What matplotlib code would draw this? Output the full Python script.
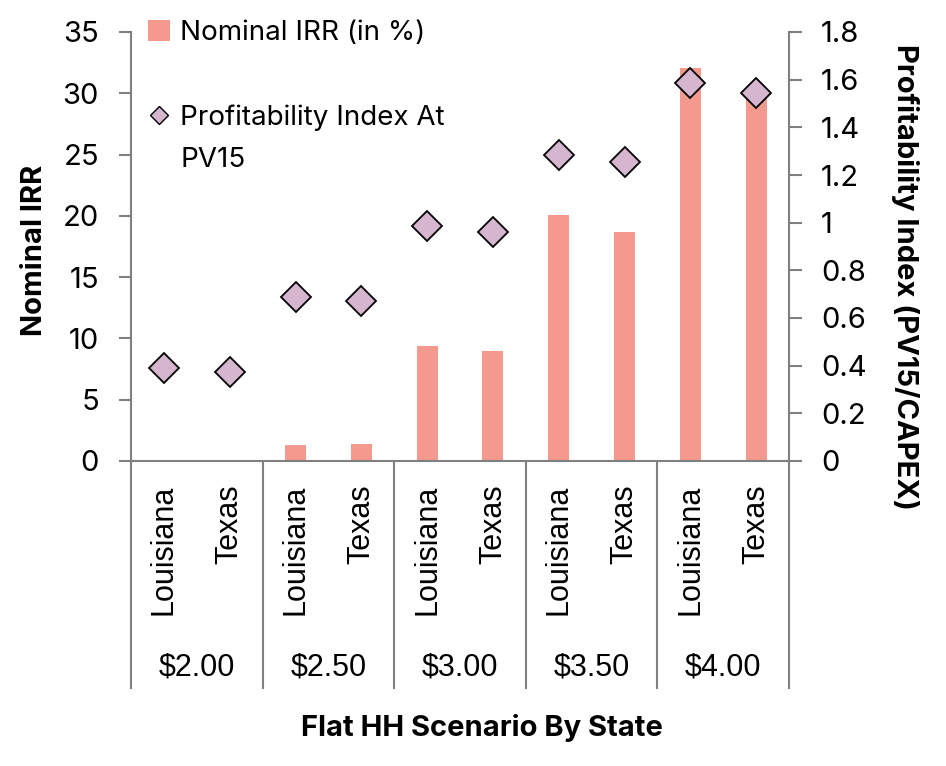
import matplotlib
matplotlib.use("Agg")
import matplotlib.pyplot as plt
from matplotlib.lines import Line2D
from matplotlib.patches import Patch
import numpy as np

plt.rcParams['font.family'] = ['Inter', 'DejaVu Sans']

prices = ['$2.00', '$2.50', '$3.00', '$3.50', '$4.00']
states = ['Louisiana', 'Texas']
irr = [0.0, 0.0, 1.3, 1.4, 9.4, 9.0, 20.1, 18.7, 32.1, 30.0]
pi_pv15 = [0.39, 0.375, 0.69, 0.67, 0.985, 0.96, 1.285, 1.255, 1.585, 1.545]

bar_color = '#F4998D'
dia_color = '#D6B5CF'
axis_gray = '#808080'

fig = plt.figure(figsize=(9.46, 7.66), dpi=100)
ax = fig.add_axes([131 / 946, 1 - 461 / 766, (789 - 131) / 946, (461 - 32) / 766])
ax2 = ax.twinx()

x = np.arange(len(irr))
ax.bar(x, irr, width=0.32, color=bar_color, zorder=2)
ax2.plot(x, pi_pv15, linestyle='none', marker='D', markersize=15,
         markerfacecolor=dia_color, markeredgecolor='black', markeredgewidth=1.3, zorder=3)

ax.set_xlim(-0.5, len(irr) - 0.5)
ax.set_ylim(0, 35)
ax.set_yticks(range(0, 36, 5))
ax2.set_ylim(0, 1.8)
ax2.set_yticks(np.arange(0, 1.81, 0.2))
ax2.set_yticklabels(['0', '0.2', '0.4', '0.6', '0.8', '1', '1.2', '1.4', '1.6', '1.8'])

for a in (ax, ax2):
    a.spines['top'].set_visible(False)
    for s in a.spines.values():
        s.set_color(axis_gray)
        s.set_linewidth(1.5)
    a.tick_params(axis='y', colors=axis_gray, labelcolor='black', labelsize=21,
                  length=9, width=1.5, direction='out', pad=14)
ax2.spines['left'].set_visible(False)
ax.spines['right'].set_visible(False)
ax2.spines['bottom'].set_visible(False)

ax.set_xticks([])

# category labels under the axis
trans = ax.get_xaxis_transform()
for i in range(len(irr)):
    ax.text(x[i], -0.055, states[i % 2], rotation=90, ha='center', va='top',
            fontsize=22, family=['Liberation Sans'], transform=trans)
for j, p in enumerate(prices):
    ax.text(2 * j + 0.5, -0.482, p, ha='center', va='center', fontsize=22,
            family=['Liberation Sans'], transform=trans)
for k in range(len(prices) + 1):
    ax.plot([2 * k - 0.5, 2 * k - 0.5], [0, -0.53], color=axis_gray, lw=1.5,
            transform=trans, clip_on=False)

fig.text(35 / 946, 1 - 250 / 766, 'Nominal IRR', rotation=90, ha='center', va='center',
         fontsize=21, fontweight='bold')
fig.text(905 / 946, 1 - 277 / 766, 'Profitability Index (PV15/CAPEX)', rotation=-90,
         ha='center', va='center', fontsize=21, fontweight='bold')
fig.text(482 / 946, 1 - 728 / 766, 'Flat HH Scenario By State', ha='center', va='center',
         fontsize=21, fontweight='bold')

# legend: the wrapped second label is split over two rows, with a blank row between entries
blank = Line2D([], [], linestyle='none')
handles = [Patch(facecolor=bar_color), blank,
           Line2D([], [], linestyle='none', marker='D', markersize=9,
                  markerfacecolor=dia_color, markeredgecolor='black', markeredgewidth=1),
           blank]
labels = ['Nominal IRR (in %)', ' ', 'Profitability Index At', 'PV15']
ax2.legend(handles, labels, loc='upper left', bbox_to_anchor=(0.005, 1.06), frameon=False,
           fontsize=20, handlelength=0.8, handleheight=0.8, handletextpad=0.35,
           labelspacing=0.57, borderaxespad=0.3, borderpad=0.2)

fig.savefig('out.png', dpi=100)
